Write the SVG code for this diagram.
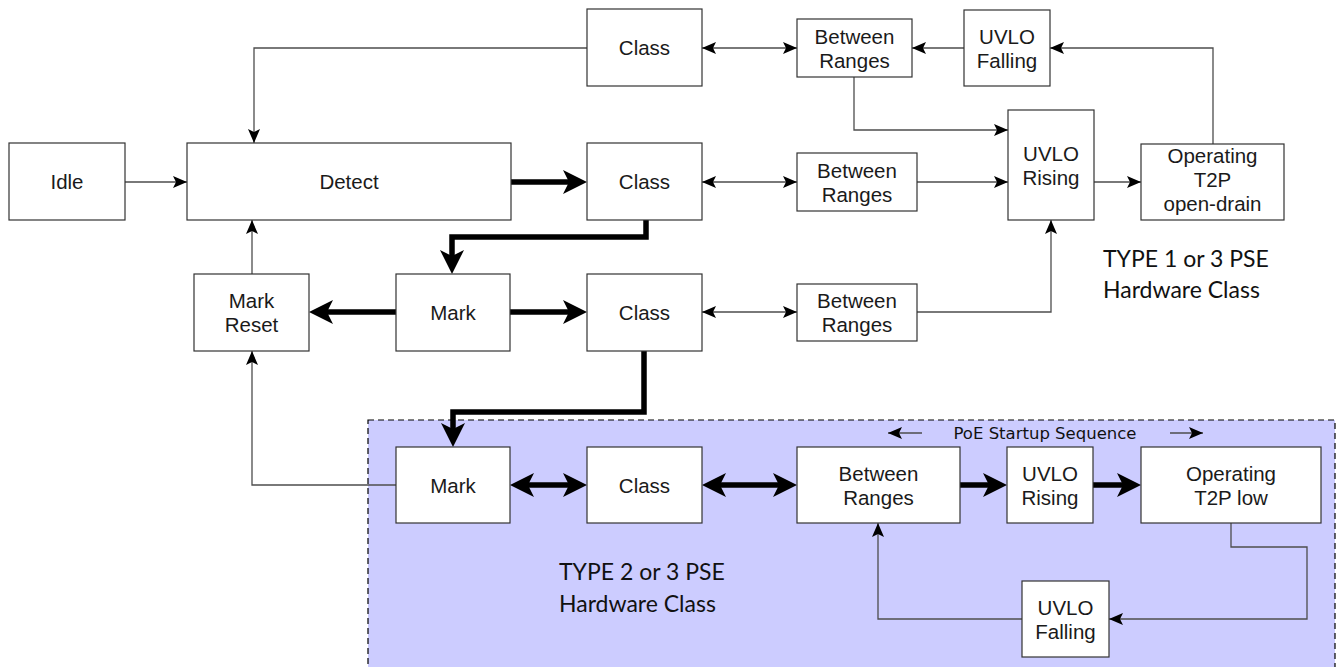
<svg xmlns="http://www.w3.org/2000/svg" width="1338" height="667" viewBox="0 0 1338 667">
<style>
.box{fill:#fff;stroke:#333;stroke-width:1.2}
.lbl{font-family:"Liberation Sans",Arial,sans-serif;font-size:20.5px;fill:#1a1a1a;text-anchor:middle}
.thin{fill:none;stroke:#4d4d4d;stroke-width:1.3}
.thick{fill:none;stroke:#000;stroke-width:5.5;stroke-linecap:round;stroke-linejoin:miter}
.note{font-family:Lato,"Open Sans",sans-serif;font-size:23px;fill:#111}
.seq{font-family:"DejaVu Sans",Verdana,sans-serif;font-size:16.5px;fill:#111}
</style>
<defs>
<marker id="ah" viewBox="0 0 14 12" markerWidth="14" markerHeight="12" refX="14" refY="6" orient="auto-start-reverse" markerUnits="userSpaceOnUse">
<path d="M0,0 L14,6 L0,12 L3,6 z" fill="#000"/>
</marker>
<marker id="AH" viewBox="0 0 24 24" markerWidth="24" markerHeight="24" refX="12" refY="12" orient="auto-start-reverse" markerUnits="userSpaceOnUse">
<path d="M0,0 L24,12 L0,24 L6,12 z" fill="#000"/>
</marker>
</defs>

<g id="region-type2">
<rect x="368" y="420" width="967" height="260" fill="#ccccff" stroke="#000" stroke-width="1.2" stroke-dasharray="6,4"/>
<text class="note" x="559" y="580">TYPE 2 or 3 PSE</text>
<text class="note" x="559" y="612">Hardware Class</text>
<text class="seq" x="1045" y="439" text-anchor="middle">PoE Startup Sequence</text>
</g>
<g id="label-type1">
<text class="note" x="1103" y="267">TYPE 1 or 3 PSE</text>
<text class="note" x="1103" y="298">Hardware Class</text>
</g>

<g id="connectors">
<path class="thin" d="M587,48 H254 V143" marker-end="url(#ah)"/>
<path class="thin" d="M702,48 H797" marker-start="url(#ah)" marker-end="url(#ah)"/>
<path class="thin" d="M964,48 H912" marker-end="url(#ah)"/>
<path class="thin" d="M1213,144 V48 H1050" marker-end="url(#ah)"/>
<path class="thin" d="M854,77 V130 H1008" marker-end="url(#ah)"/>
<path class="thin" d="M125,182 H187" marker-end="url(#ah)"/>
<path class="thick" d="M511,182 H575" marker-end="url(#AH)"/>
<path class="thin" d="M702,182 H797" marker-start="url(#ah)" marker-end="url(#ah)"/>
<path class="thin" d="M917,182 H1008" marker-end="url(#ah)"/>
<path class="thin" d="M1094,182 H1141" marker-end="url(#ah)"/>
<path class="thick" d="M646,220 V237 H452 V262" marker-end="url(#AH)"/>
<path class="thin" d="M252,274 V220" marker-end="url(#ah)"/>
<path class="thick" d="M396,312 H321" marker-end="url(#AH)"/>
<path class="thick" d="M510,312 H575" marker-end="url(#AH)"/>
<path class="thin" d="M702,312 H797" marker-start="url(#ah)" marker-end="url(#ah)"/>
<path class="thin" d="M917,312 H1051 V220" marker-end="url(#ah)"/>
<path class="thick" d="M644,351 V412 H453 V435" marker-end="url(#AH)"/>
<path class="thin" d="M396,485 H252 V351" marker-end="url(#ah)"/>
<path class="thick" d="M522,485 H575" marker-start="url(#AH)" marker-end="url(#AH)"/>
<path class="thick" d="M714,485 H785" marker-start="url(#AH)" marker-end="url(#AH)"/>
<path class="thick" d="M960,485 H995" marker-end="url(#AH)"/>
<path class="thick" d="M1093,485 H1129" marker-end="url(#AH)"/>
<path class="thin" d="M1231,523 V547 H1307 V619 H1109" marker-end="url(#ah)"/>
<path class="thin" d="M1022,619 H878 V523" marker-end="url(#ah)"/>
<path class="thin" d="M922,433 H888" stroke="#000" marker-end="url(#ah)"/>
<path class="thin" d="M1170,433 H1203" stroke="#000" marker-end="url(#ah)"/>
</g>

<g id="idle"><rect class="box" x="9" y="143" width="116" height="77"/><text class="lbl" x="67" y="189">Idle</text></g>
<g id="detect"><rect class="box" x="187" y="143" width="324" height="77"/><text class="lbl" x="349" y="189">Detect</text></g>
<g id="class-top"><rect class="box" x="587" y="9" width="115" height="77"/><text class="lbl" x="644.5" y="55">Class</text></g>
<g id="between-top"><rect class="box" x="797" y="19" width="115" height="58"/><text class="lbl" x="854.5" y="43.5">Between</text><text class="lbl" x="854.5" y="67.5">Ranges</text></g>
<g id="uvlo-falling-top"><rect class="box" x="964" y="10" width="86" height="76"/><text class="lbl" x="1007" y="43.5">UVLO</text><text class="lbl" x="1007" y="67.5">Falling</text></g>
<g id="class-mid"><rect class="box" x="587" y="143" width="115" height="77"/><text class="lbl" x="644.5" y="189">Class</text></g>
<g id="between-mid"><rect class="box" x="797" y="153" width="120" height="58"/><text class="lbl" x="857" y="177.5">Between</text><text class="lbl" x="857" y="201.5">Ranges</text></g>
<g id="uvlo-rising-top"><rect class="box" x="1008" y="110" width="86" height="110"/><text class="lbl" x="1051" y="160.5">UVLO</text><text class="lbl" x="1051" y="184.5">Rising</text></g>
<g id="operating-od"><rect class="box" x="1141" y="144" width="143" height="76"/><text class="lbl" x="1212.5" y="163">Operating</text><text class="lbl" x="1212.5" y="187">T2P</text><text class="lbl" x="1212.5" y="211">open-drain</text></g>
<g id="mark-reset"><rect class="box" x="194" y="274" width="115" height="77"/><text class="lbl" x="251.5" y="308">Mark</text><text class="lbl" x="251.5" y="332">Reset</text></g>
<g id="mark-mid"><rect class="box" x="396" y="274" width="114" height="77"/><text class="lbl" x="453" y="320">Mark</text></g>
<g id="class-low"><rect class="box" x="587" y="274" width="115" height="77"/><text class="lbl" x="644.5" y="320">Class</text></g>
<g id="between-low"><rect class="box" x="797" y="284" width="120" height="57"/><text class="lbl" x="857" y="308">Between</text><text class="lbl" x="857" y="332">Ranges</text></g>
<g id="mark-bottom"><rect class="box" x="396" y="447" width="114" height="76"/><text class="lbl" x="453" y="492.5">Mark</text></g>
<g id="class-bottom"><rect class="box" x="587" y="447" width="115" height="76"/><text class="lbl" x="644.5" y="492.5">Class</text></g>
<g id="between-bottom"><rect class="box" x="797" y="447" width="163" height="76"/><text class="lbl" x="878.5" y="480.5">Between</text><text class="lbl" x="878.5" y="504.5">Ranges</text></g>
<g id="uvlo-rising-bottom"><rect class="box" x="1007" y="447" width="86" height="76"/><text class="lbl" x="1050" y="480.5">UVLO</text><text class="lbl" x="1050" y="504.5">Rising</text></g>
<g id="operating-low"><rect class="box" x="1141" y="447" width="180" height="76"/><text class="lbl" x="1231" y="480.5">Operating</text><text class="lbl" x="1231" y="504.5">T2P low</text></g>
<g id="uvlo-falling-bottom"><rect class="box" x="1022" y="581" width="87" height="76"/><text class="lbl" x="1065.5" y="614.5">UVLO</text><text class="lbl" x="1065.5" y="638.5">Falling</text></g>
</svg>
